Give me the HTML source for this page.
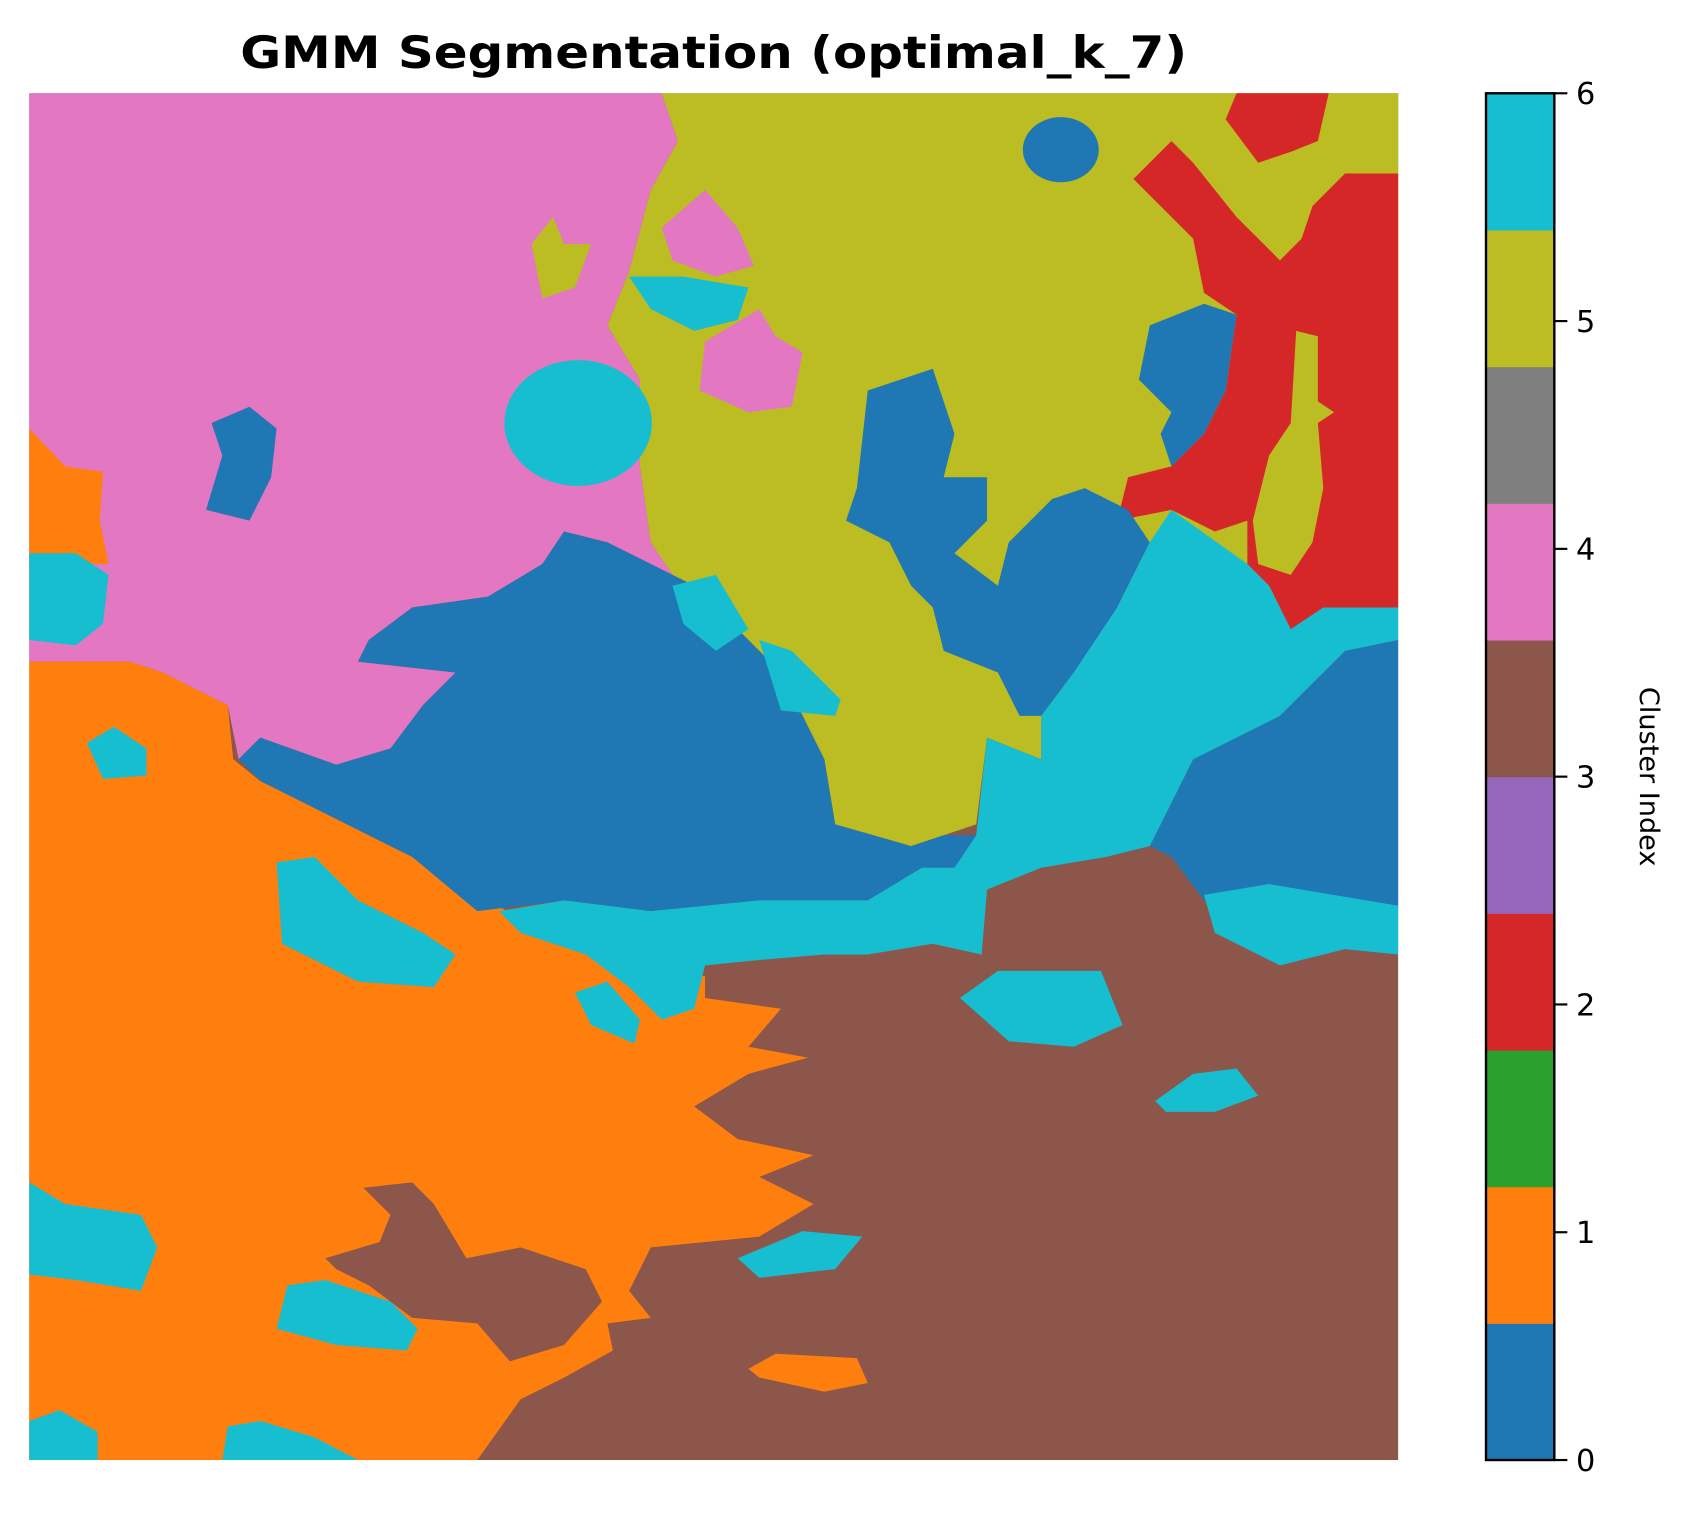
<!DOCTYPE html>
<html><head><meta charset="utf-8"><style>
html,body{margin:0;padding:0;background:#fff;}
svg{display:block;}
text{font-family:"DejaVu Sans","Liberation Sans",sans-serif;}
</style></head><body>
<svg id="fig" width="1700" height="1516" viewBox="0 0 1567.3 1397.6" preserveAspectRatio="none" xmlns="http://www.w3.org/2000/svg">
<rect x="0" y="0" width="1568" height="1398" fill="#fff"/>
<text x="658" y="62.7" text-anchor="middle" font-size="41" font-weight="bold" fill="#000" textLength="873" lengthAdjust="spacingAndGlyphs">GMM Segmentation (optimal_k_7)</text>
<g id="seg">
<rect x="27" y="86" width="1262" height="1260" fill="#8c564b"/>
<polygon fill="#ff7f0e" points="27,610 120,610 150,620 210,650 215,700 240,720 320,760 380,790 450,830 520,870 600,890 650,900 650,920 720,930 690,965 745,975 690,990 640,1020 680,1050 750,1065 700,1085 750,1110 700,1140 600,1150 580,1190 600,1215 560,1220 565,1245 520,1270 480,1290 440,1346 27,1346"/>
<polygon fill="#8c564b" points="335,1095 380,1090 400,1110 430,1160 480,1150 540,1170 555,1200 520,1240 470,1255 440,1220 380,1215 340,1185 310,1170 300,1160 350,1145 360,1120"/>
<polygon fill="#ff7f0e" points="690,1262 715,1248 790,1252 800,1275 760,1283 700,1270"/>
<polygon fill="#e377c2" points="27,86 610,86 625,130 600,175 580,250 560,300 590,350 590,430 600,500 620,530 560,500 520,490 500,520 450,550 380,560 340,590 330,610 420,620 390,650 360,690 310,705 240,680 220,700 210,650 150,620 120,610 27,610"/>
<polygon fill="#ff7f0e" points="27,395 60,430 95,435 92,480 100,520 27,520"/>
<polygon fill="#bcbd22" points="610,86 1289,86 1289,560 1180,560 1150,520 1080,480 1030,560 990,620 960,660 960,700 910,680 900,760 870,770 840,780 770,760 760,700 740,660 720,620 680,580 640,540 620,530 600,500 590,430 590,350 560,300 580,250 600,175 625,130"/>
<polygon fill="#bcbd22" points="490,225 510,200 520,225 545,225 530,265 500,275"/>
<polygon fill="#e377c2" points="610,210 650,175 680,210 695,245 660,255 620,240"/>
<polygon fill="#e377c2" points="650,315 700,285 715,310 740,325 730,375 690,380 645,360"/>
<polygon fill="#d62728" points="1140,86 1225,86 1215,130 1190,140 1160,150 1130,110"/>
<polygon fill="#d62728" points="1080,130 1100,150 1140,200 1180,240 1200,220 1210,190 1240,160 1289,160 1289,560 1220,560 1190,580 1170,540 1150,520 1150,480 1120,490 1080,470 1030,480 1040,440 1080,430 1110,400 1130,360 1140,290 1110,270 1100,220 1060,180 1045,165"/>
<polygon fill="#bcbd22" points="1195,305 1215,310 1215,370 1230,380 1215,390 1220,450 1210,500 1190,530 1160,520 1155,480 1170,420 1190,390"/>
<polygon fill="#1f77b4" points="220,700 240,680 310,705 360,690 390,650 420,620 330,610 340,590 380,560 450,550 500,520 520,490 560,500 620,530 640,540 680,580 720,620 740,660 760,700 770,760 840,780 870,770 900,770 880,800 850,800 800,830 700,830 600,840 520,830 440,840 380,790 320,760 240,720"/>
<polygon fill="#1f77b4" points="800,360 860,340 880,400 870,440 910,440 910,480 880,510 920,540 930,500 970,460 1000,450 1040,470 1060,500 1030,560 990,620 960,660 940,660 920,620 870,600 860,560 840,540 820,500 780,480 790,450"/>
<polygon fill="#1f77b4" points="1060,300 1110,280 1140,290 1130,360 1110,400 1080,430 1070,400 1080,380 1050,350"/>
<polygon fill="#1f77b4" points="1060,780 1100,700 1180,660 1240,600 1289,590 1289,840 1230,830 1150,820 1110,830 1080,790"/>
<ellipse fill="#1f77b4" cx="978" cy="138" rx="35" ry="30"/>
<polygon fill="#1f77b4" points="195,390 230,375 255,395 250,440 230,480 190,470 205,420"/>
<polygon fill="#17becf" points="1080,470 1150,520 1170,540 1190,580 1220,560 1289,560 1289,590 1240,600 1180,660 1100,700 1060,780 1020,790 960,800 910,820 905,880 860,870 800,880 760,880 700,885 650,890 640,930 610,940 580,910 540,880 480,860 460,840 520,830 600,840 700,830 800,830 850,800 880,800 900,770 910,680 960,700 960,660 990,620 1030,560 1060,500"/>
<ellipse fill="#17becf" cx="533" cy="390" rx="68" ry="58"/>
<polygon fill="#17becf" points="580,255 630,255 690,265 680,295 640,305 600,285"/>
<polygon fill="#17becf" points="27,510 70,510 100,530 95,575 70,595 27,590"/>
<polygon fill="#17becf" points="80,685 105,670 135,690 135,715 95,718"/>
<polygon fill="#17becf" points="255,795 290,790 330,830 390,860 420,880 400,910 330,905 260,870"/>
<polygon fill="#17becf" points="530,915 560,905 590,940 585,962 545,945"/>
<polygon fill="#17becf" points="885,920 920,895 1015,895 1035,945 990,965 930,960"/>
<polygon fill="#17becf" points="1065,1015 1100,990 1140,985 1160,1010 1120,1025 1075,1025"/>
<polygon fill="#17becf" points="1110,825 1170,815 1289,835 1289,880 1240,875 1180,890 1120,860"/>
<polygon fill="#17becf" points="27,1090 60,1110 130,1120 145,1150 130,1190 70,1180 27,1175"/>
<polygon fill="#17becf" points="265,1185 300,1180 360,1200 385,1225 375,1245 310,1240 255,1225"/>
<polygon fill="#17becf" points="680,1160 740,1135 795,1140 770,1170 700,1178"/>
<polygon fill="#17becf" points="27,1310 55,1300 90,1320 90,1346 27,1346"/>
<polygon fill="#17becf" points="210,1315 240,1310 290,1325 330,1346 205,1346"/>
<polygon fill="#17becf" points="620,540 660,530 690,580 660,600 630,575"/>
<polygon fill="#17becf" points="700,590 730,600 775,645 770,660 720,655"/>
</g>
<g id="cbar"></g>
<text transform="translate(1512,716) rotate(90)" text-anchor="middle" font-size="25" fill="#000">Cluster Index</text>
<script>
const bandColors = ["#1f77b4","#ff7f0e","#2ca02c","#d62728","#9467bd","#8c564b","#e377c2","#7f7f7f","#bcbd22","#17becf"];
const tickValues = [0,1,2,3,4,5,6];
const tickLabels = ["0","1","2","3","4","5","6"];
const vmin = 0, vmax = 6;
const ns = "http://www.w3.org/2000/svg";
const g = document.getElementById('cbar');
const cx0 = 1370, cx1 = 1433, cyTop = 86, cyBot = 1346;
function yScale(v){ return cyBot - (v - vmin) / (vmax - vmin) * (cyBot - cyTop); }
const step = (vmax - vmin) / bandColors.length;
bandColors.forEach((c, i) => {
  const r = document.createElementNS(ns, 'rect');
  const y0 = yScale(vmin + (i + 1) * step), y1 = yScale(vmin + i * step);
  r.setAttribute('x', cx0); r.setAttribute('y', y0);
  r.setAttribute('width', cx1 - cx0); r.setAttribute('height', y1 - y0 + 0.5);
  r.setAttribute('fill', c);
  
  
  g.appendChild(r);
});
const frame = document.createElementNS(ns, 'rect');
frame.setAttribute('x', cx0); frame.setAttribute('y', cyTop);
frame.setAttribute('width', cx1 - cx0); frame.setAttribute('height', cyBot - cyTop);
frame.setAttribute('fill', 'none'); frame.setAttribute('stroke', '#000'); frame.setAttribute('stroke-width', '2.2');


g.appendChild(frame);
tickValues.forEach((v, i) => {
  const y = yScale(v);
  const t = document.createElementNS(ns, 'line');
  t.setAttribute('x1', cx1); t.setAttribute('x2', cx1 + 12);
  t.setAttribute('y1', y); t.setAttribute('y2', y);
  t.setAttribute('stroke', '#000'); t.setAttribute('stroke-width', '2');
  
  
  g.appendChild(t);
  const tx = document.createElementNS(ns, 'text');
  tx.setAttribute('x', cx1 + 20); tx.setAttribute('y', y + 10);
  tx.setAttribute('font-size', '28'); tx.setAttribute('fill', '#000');
  tx.textContent = tickLabels[i];
  
  
  g.appendChild(tx);
});
</script>
</svg>
</body></html>
